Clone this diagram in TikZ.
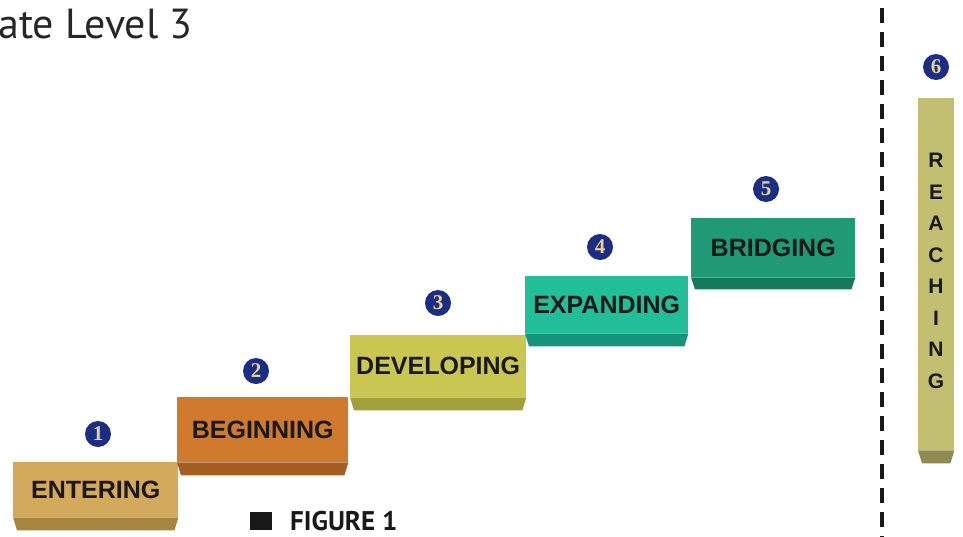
\documentclass[tikz,border=0pt]{standalone}
\usepackage{fontspec}
\setmainfont{Liberation Sans}
\newfontfamily\titlefont{PT Sans}
\newfontfamily\numfont{Liberation Serif}
\definecolor{enterF}{HTML}{D3A95B}
\definecolor{enterB}{HTML}{A8863F}
\definecolor{beginF}{HTML}{CF7A2C}
\definecolor{beginB}{HTML}{A55E21}
\definecolor{devF}{HTML}{C9C652}
\definecolor{devB}{HTML}{A3A13B}
\definecolor{expF}{HTML}{22BD99}
\definecolor{expB}{HTML}{17937A}
\definecolor{bridF}{HTML}{1F9A74}
\definecolor{bridB}{HTML}{157A5B}
\definecolor{reachF}{HTML}{C3BF72}
\definecolor{reachB}{HTML}{8F8B52}
\definecolor{navy}{HTML}{1B2E86}
\definecolor{gold}{HTML}{EBD08C}
\tikzset{
  stepface/.style={anchor=north west, inner sep=0pt, text=black!90,
    font=\fontsize{25}{25}\selectfont\bfseries},
  numcircle/.style={circle, fill=navy, minimum size=26pt, inner sep=0pt,
    text=gold, font=\fontsize{21}{21}\selectfont\numfont\bfseries},
  divider/.style={line width=4pt, dash pattern=on 15pt off 9pt, black!90}
}
\newcommand{\bandunder}[3]{% node, colour, depth
  \fill[#2] (#1.south west) -- (#1.south east) -- ([xshift=-4pt,yshift=-#3pt]#1.south east)
    -- ([xshift=4pt,yshift=-#3pt]#1.south west) -- cycle;}
\begin{document}
\begin{tikzpicture}[x=1pt,y=-1pt]
\useasboundingbox (0,0) rectangle (963,536);
% title
\node[anchor=base west, inner sep=0pt, text=black!85,
  font=\fontsize{42}{42}\titlefont] (title) at (-2,38) {ate Level 3};
% steps
\node[stepface, fill=enterF, minimum width=165pt, minimum height=55pt] (entering) at (13,462) {ENTERING};
\bandunder{entering}{enterB}{13}
\node[stepface, fill=beginF, minimum width=171pt, minimum height=65pt] (beginning) at (177,397) {BEGINNING};
\bandunder{beginning}{beginB}{13}
\node[stepface, fill=devF, minimum width=176pt, minimum height=62pt] (developing) at (350,335) {DEVELOPING};
\bandunder{developing}{devB}{13}
\node[stepface, fill=expF, minimum width=163pt, minimum height=57pt] (expanding) at (525,276) {EXPANDING};
\bandunder{expanding}{expB}{13}
\node[stepface, fill=bridF, minimum width=164pt, minimum height=59pt] (bridging) at (691,218) {BRIDGING};
\bandunder{bridging}{bridB}{12}
% reaching
\node[stepface, fill=reachF, minimum width=36pt, minimum height=352pt] (reaching) at (918,98) {};
\bandunder{reaching}{reachB}{13}
\node[align=center, inner sep=0pt, text=black!90,
  font=\fontsize{21}{31.5}\selectfont\bfseries, anchor=north] (reachtext) at (936,153)
  {R\\E\\A\\C\\H\\I\\N\\G};
% number circles
\node[numcircle] (n1) at (98,434) {1};
\node[numcircle] (n2) at (256,371) {2};
\node[numcircle] (n3) at (438,303) {3};
\node[numcircle] (n4) at (600,247) {4};
\node[numcircle] (n5) at (766,189) {5};
\node[numcircle] (n6) at (936,67) {6};
% divider
\coordinate (dtop) at (882,8);
\coordinate (dbot) at (882,540);
\draw[divider] (dtop) -- (dbot);
% figure caption
\node[fill=black!90, minimum width=22pt, minimum height=18pt, inner sep=0pt, anchor=north west] (sq) at (250,512) {};
\node[anchor=base west, inner sep=0pt, text=black!90,
  font=\fontsize{27}{27}\titlefont\bfseries] (fig) at (290,530) {FIGURE 1};
\end{tikzpicture}
\end{document}
